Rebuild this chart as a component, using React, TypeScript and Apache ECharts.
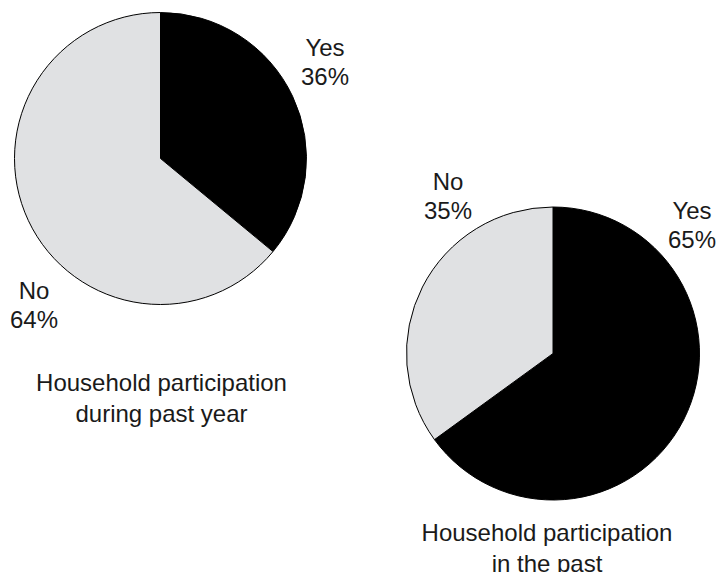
import React, { useEffect, useRef } from "react";
import * as echarts from "echarts";

const categories = ["Yes", "No"];
const pastYearValues = [36, 64];
const pastValues = [65, 35];
const titles = ["Household participation\nduring past year", "Household participation\nin the past"];

const sliceColors = ["#000000", "#e0e1e3"];
const FONT = "'Liberation Sans', Arial, Helvetica, sans-serif";

// label anchor positions per pie / slice index
const labelPos = [
  [[325, 62], [34, 305]],
  [[692, 225], [448, 196]],
];

export default function App() {
  const ref = useRef<HTMLDivElement>(null);
  useEffect(() => {
    if (!ref.current) return;
    const chart = echarts.init(ref.current, undefined, { renderer: "svg" });
    const makeSeries = (values: number[], center: number[], radius: number) => ({
      type: "pie",
      center,
      radius,
      startAngle: 90,
      clockwise: true,
      silent: true,
      data: categories.map((c, i) => ({
        name: c,
        value: values[i],
        itemStyle: { color: sliceColors[i] },
      })),
      itemStyle: { borderColor: "#000000", borderWidth: 1 },
      label: { show: false },
      labelLine: { show: false },
    });
    const pct = (values: number[], i: number) => {
      const total = values.reduce((a, b) => a + b, 0);
      return Math.round((values[i] / total) * 100);
    };
    const labelTexts: any[] = [];
    [pastYearValues, pastValues].forEach((vals, s) => {
      categories.forEach((c, i) => {
        labelTexts.push({
          type: "text",
          x: labelPos[s][i][0],
          y: labelPos[s][i][1],
          style: {
            text: `${c}\n${pct(vals, i)}%`,
            fontFamily: FONT,
            fontSize: 24,
            lineHeight: 29,
            fill: "#1a1a1a",
            align: "center",
            verticalAlign: "middle",
          },
        });
      });
    });
    chart.setOption({
      animation: false,
      series: [
        makeSeries(pastYearValues, [160.5, 158.5], 146),
        makeSeries(pastValues, [553, 353.5], 146.5),
      ],
      graphic: [
        ...labelTexts,
        {
          type: "text",
          x: 161.5,
          y: 398,
          style: {
            text: titles[0],
            fontFamily: FONT,
            fontSize: 24,
            lineHeight: 31,
            fill: "#1a1a1a",
            align: "center",
            verticalAlign: "middle",
          },
        },
        {
          type: "text",
          x: 547,
          y: 547.5,
          style: {
            text: titles[1],
            fontFamily: FONT,
            fontSize: 24,
            lineHeight: 31,
            fill: "#1a1a1a",
            align: "center",
            verticalAlign: "middle",
          },
        },
      ],
    });
    return () => chart.dispose();
  }, []);
  return (
    <div
      ref={ref}
      style={{ position: "fixed", left: 0, top: 0, width: 728, height: 572, background: "#ffffff" }}
    />
  );
}
